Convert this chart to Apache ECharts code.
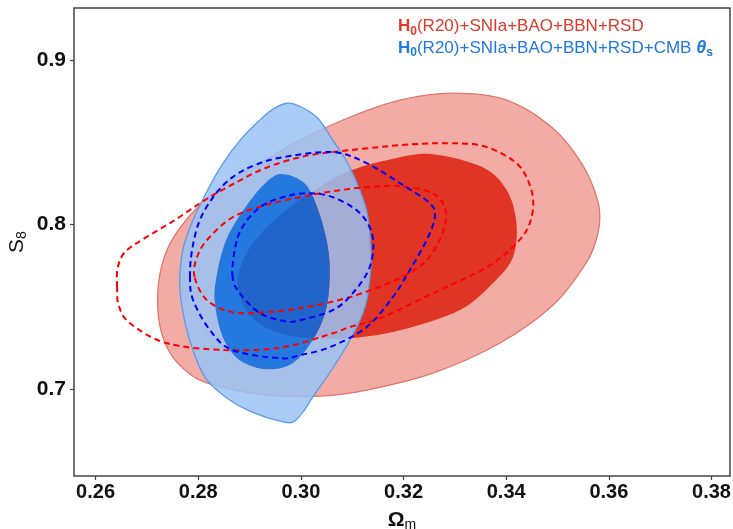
<!DOCTYPE html>
<html><head><meta charset="utf-8">
<script src="https://cdn.jsdelivr.net/npm/echarts@6/dist/echarts.min.js"></script>
<style>html,body{margin:0;padding:0;background:#fff}#c{width:733px;height:529px}</style>
</head><body><div id="c"></div>
<script>
// axis ticks
const xTicks = [0.26, 0.28, 0.30, 0.32, 0.34, 0.36, 0.38];
const yTicks = [0.7, 0.8, 0.9];
const xRange = [0.2558, 0.3836];
const yRange = [0.6471, 0.9316];

// H0(R20)+SNIa+BAO+BBN+RSD : 2-sigma and 1-sigma contours (Omega_m, S8)
const redOuter = [[0.2721,0.7540],[0.2725,0.7692],[0.2739,0.7844],[0.2764,0.7978],[0.2803,0.8117],[0.2862,0.8269],[0.2930,0.8391],[0.2998,0.8513],[0.3095,0.8652],[0.3193,0.8756],[0.3296,0.8798],[0.3401,0.8756],[0.3491,0.8585],[0.3549,0.8361],[0.3578,0.8148],[0.3582,0.8014],[0.3572,0.7874],[0.3553,0.7753],[0.3491,0.7509],[0.3387,0.7278],[0.3257,0.7096],[0.3128,0.6993],[0.3037,0.6956],[0.2939,0.6962],[0.2871,0.6993],[0.2803,0.7054],[0.2764,0.7145],[0.2739,0.7254],[0.2725,0.7388]];
const redInner = [[0.2877,0.7631],[0.2889,0.7795],[0.2924,0.7953],[0.2972,0.8090],[0.3023,0.8200],[0.3090,0.8320],[0.3180,0.8400],[0.3257,0.8427],[0.3354,0.8348],[0.3401,0.8209],[0.3420,0.8008],[0.3413,0.7801],[0.3374,0.7643],[0.3309,0.7479],[0.3193,0.7357],[0.3095,0.7309],[0.2998,0.7315],[0.2930,0.7376],[0.2891,0.7491]];

// H0(R20)+SNIa+BAO+BBN+RSD+CMB theta_s
const blueOuter = [[0.2764,0.7631],[0.2770,0.7844],[0.2788,0.8014],[0.2813,0.8178],[0.2846,0.8361],[0.2885,0.8525],[0.2924,0.8646],[0.2949,0.8707],[0.2973,0.8737],[0.2998,0.8719],[0.3033,0.8646],[0.3062,0.8513],[0.3091,0.8373],[0.3115,0.8209],[0.3130,0.8057],[0.3136,0.7874],[0.3136,0.7722],[0.3126,0.7509],[0.3101,0.7327],[0.3062,0.7126],[0.3023,0.6950],[0.3004,0.6859],[0.2984,0.6798],[0.2959,0.6804],[0.2910,0.6853],[0.2862,0.6932],[0.2817,0.7054],[0.2793,0.7206],[0.2774,0.7406]];
const blueInner = [[0.2832,0.7540],[0.2838,0.7722],[0.2852,0.7886],[0.2875,0.8026],[0.2914,0.8196],[0.2945,0.8288],[0.2965,0.8306],[0.2992,0.8282],[0.3017,0.8209],[0.3043,0.7996],[0.3056,0.7765],[0.3050,0.7497],[0.3023,0.7297],[0.2984,0.7157],[0.2934,0.7120],[0.2881,0.7175],[0.2848,0.7315]];

// dashed contours
const redDashOuter = [[0.2642,0.7619],[0.2643,0.7734],[0.2657,0.7832],[0.2696,0.7917],[0.2754,0.8026],[0.2813,0.8148],[0.2871,0.8251],[0.2930,0.8342],[0.2998,0.8409],[0.3062,0.8440],[0.3193,0.8482],[0.3276,0.8494],[0.3348,0.8482],[0.3397,0.8421],[0.3432,0.8330],[0.3452,0.8166],[0.3446,0.8008],[0.3420,0.7886],[0.3362,0.7740],[0.3257,0.7582],[0.3160,0.7437],[0.3095,0.7376],[0.3062,0.7339],[0.2965,0.7254],[0.2856,0.7236],[0.2739,0.7278],[0.2667,0.7400],[0.2645,0.7509]];
const redDashInner = [[0.2793,0.7680],[0.2797,0.7795],[0.2817,0.7905],[0.2867,0.8044],[0.2930,0.8117],[0.2998,0.8166],[0.3062,0.8202],[0.3128,0.8227],[0.3193,0.8233],[0.3257,0.8190],[0.3282,0.8087],[0.3276,0.7947],[0.3245,0.7783],[0.3193,0.7674],[0.3095,0.7558],[0.2998,0.7491],[0.2934,0.7467],[0.2867,0.7467],[0.2817,0.7540]];
const blueDashOuter = [[0.2784,0.7680],[0.2788,0.7844],[0.2803,0.8026],[0.2832,0.8178],[0.2867,0.8288],[0.2910,0.8361],[0.2965,0.8409],[0.3062,0.8440],[0.3128,0.8373],[0.3193,0.8251],[0.3251,0.8130],[0.3261,0.8044],[0.3245,0.7905],[0.3212,0.7722],[0.3179,0.7558],[0.3128,0.7376],[0.3056,0.7254],[0.2998,0.7206],[0.2959,0.7187],[0.2867,0.7236],[0.2823,0.7357],[0.2790,0.7540]];
const blueDashInner = [[0.2867,0.7680],[0.2871,0.7844],[0.2885,0.7978],[0.2920,0.8105],[0.2965,0.8166],[0.3012,0.8190],[0.3062,0.8166],[0.3115,0.8069],[0.3140,0.7923],[0.3134,0.7740],[0.3101,0.7582],[0.3062,0.7479],[0.2998,0.7418],[0.2969,0.7412],[0.2920,0.7461],[0.2881,0.7582]];

function signedArea(p){let a=0;for(let i=0;i<p.length;i++){const q=p[(i+1)%p.length];a+=p[i][0]*q[1]-q[0]*p[i][1];}return a/2;}
function smoothClosed(p){
  const n=p.length;let d='M'+p[0][0].toFixed(2)+' '+p[0][1].toFixed(2);
  for(let i=0;i<n;i++){
    const p0=p[(i-1+n)%n],p1=p[i],p2=p[(i+1)%n],p3=p[(i+2)%n];
    const c1=[p1[0]+(p2[0]-p0[0])/6,p1[1]+(p2[1]-p0[1])/6];
    const c2=[p2[0]-(p3[0]-p1[0])/6,p2[1]-(p3[1]-p1[1])/6];
    d+=' C'+c1[0].toFixed(2)+' '+c1[1].toFixed(2)+' '+c2[0].toFixed(2)+' '+c2[1].toFixed(2)+' '+p2[0].toFixed(2)+' '+p2[1].toFixed(2);
  }
  return d+' Z';
}
function contour(name, data, o){
  return {
    type:'custom', name:name, data:data, clip:true, z:o.z, silent:true,
    encode:{x:0,y:1},
    renderItem:function(params, api){
      if(params.dataIndexInside!==0) return null;
      const pts=[];
      for(let i=0;i<params.dataInsideLength;i++) pts.push(api.coord([api.value(0,i),api.value(1,i)]));
      const children=[];
      if(o.fill){
        let d=smoothClosed(pts);
        if(o.hole){
          let h=o.hole.map(v=>api.coord(v));
          if(Math.sign(signedArea(h))===Math.sign(signedArea(pts))) h=h.slice().reverse();
          d+=' '+smoothClosed(h);
        }
        children.push({type:'path',shape:{pathData:d},style:{fill:o.fill,stroke:null}});
      }
      if(o.stroke){
        children.push({type:'path',shape:{pathData:smoothClosed(pts)},style:{fill:null,stroke:o.stroke,lineWidth:o.lw||1.3,lineDash:o.dash||null}});
      }
      return {type:'group',children:children};
    }
  };
}

const chart = echarts.init(document.getElementById('c'), null, {renderer:'canvas'});
const RED='#e2382a', BLUE='#1f78e3';
const F='Liberation Sans';
chart.setOption({
  animation:false,
  backgroundColor:'#fff',
  grid:{left:74,top:8,right:3,bottom:53,outerBoundsMode:'none',containLabel:false,show:true,borderColor:'#444',borderWidth:1.5,backgroundColor:'transparent'},
  xAxis:{type:'value',min:xRange[0],max:xRange[1],
    axisLine:{show:false},splitLine:{show:false},
    axisTick:{show:true,customValues:xTicks,length:4,lineStyle:{color:'#444',width:1.2}},
    axisLabel:{customValues:xTicks,margin:6,fontFamily:F,fontWeight:'bold',fontSize:20,color:'#111',formatter:v=>v.toFixed(2)},
    name:'{a|Ω}{b|m}',nameLocation:'middle',nameGap:32,nameMoveOverlap:false,
    nameTextStyle:{rich:{a:{fontFamily:F,fontWeight:'bold',fontSize:21,color:'#111',lineHeight:24},b:{fontFamily:F,fontSize:14,color:'#111',verticalAlign:'bottom',lineHeight:12}}}
  },
  yAxis:{type:'value',min:yRange[0],max:yRange[1],
    axisLine:{show:false},splitLine:{show:false},
    axisTick:{show:true,customValues:yTicks,length:4,lineStyle:{color:'#444',width:1.2}},
    axisLabel:{customValues:yTicks,margin:8,fontFamily:F,fontWeight:'bold',fontSize:21,color:'#111',formatter:v=>v.toFixed(1)},
    name:'{a|S}{b|8}',nameLocation:'middle',nameGap:45,nameRotate:90,nameMoveOverlap:false,
    nameTextStyle:{rich:{a:{fontFamily:F,fontSize:21,color:'#111',lineHeight:24},b:{fontFamily:F,fontSize:14,color:'#111',verticalAlign:'bottom',lineHeight:12}}}
  },
  series:[
    contour('redOuter', redOuter, {z:1, fill:'rgb(243,172,165)', stroke:'#e0766b', lw:1.3}),
    contour('redInner', redInner, {z:2, fill:'rgb(224,52,36)'}),
    contour('blueOuter', blueOuter, {z:3, fill:'rgba(153,195,245,0.85)', hole:blueInner}),
    contour('blueOuterEdge', blueOuter, {z:4, stroke:'#5b9be4', lw:1.3}),
    contour('blueInner', blueInner, {z:5, fill:'rgba(0,110,232,0.85)'}),
    contour('redDashOuter', redDashOuter, {z:6, stroke:'#ff0000', lw:2, dash:[6,4]}),
    contour('redDashInner', redDashInner, {z:6, stroke:'#ff0000', lw:2, dash:[6,4]}),
    contour('blueDashOuter', blueDashOuter, {z:7, stroke:'#0000ff', lw:2, dash:[6,4]}),
    contour('blueDashInner', blueDashInner, {z:7, stroke:'#0000ff', lw:2, dash:[6,4]})
  ],
  graphic:[
    {type:'text',left:398,top:18,z:100,style:{text:'{hb|H}{sub|0}{n|(R20)+SNIa+BAO+BBN+RSD}',rich:{
      hb:{fontFamily:F,fontWeight:'bold',fontSize:17,fill:RED,lineHeight:22},
      sub:{fontFamily:F,fontWeight:'bold',fontSize:12,fill:RED,verticalAlign:'bottom',lineHeight:9},
      n:{fontFamily:F,fontSize:17,fill:RED,lineHeight:22}}}},
    {type:'text',left:398,top:39,z:100,style:{text:'{hb|H}{sub|0}{n|(R20)+SNIa+BAO+BBN+RSD+CMB }{th|θ}{sub|s}',rich:{
      hb:{fontFamily:F,fontWeight:'bold',fontSize:17,fill:BLUE,lineHeight:22},
      sub:{fontFamily:F,fontWeight:'bold',fontSize:12,fill:BLUE,verticalAlign:'bottom',lineHeight:9},
      th:{fontFamily:F,fontWeight:'bold',fontStyle:'italic',fontSize:18,fill:BLUE,lineHeight:22},
      n:{fontFamily:F,fontSize:17,fill:BLUE,lineHeight:22}}}}
  ]
});
</script></body></html>
